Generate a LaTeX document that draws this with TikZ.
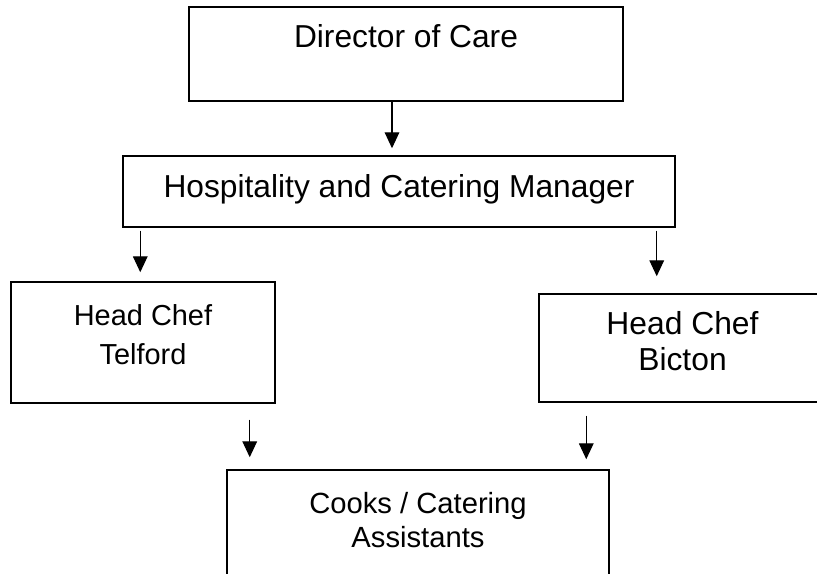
\documentclass[tikz,border=0pt]{standalone}
\usepackage{fontspec}
\setmainfont{Liberation Sans}
\usetikzlibrary{arrows.meta,calc}

\tikzset{
    box/.style={draw, line width=1.1pt, inner sep=0pt, align=center},
    arr/.style={line width=0.9pt, -{Triangle[length=12pt,width=11pt]}},
}

\begin{document}
\begin{tikzpicture}[x=0.75pt, y=-0.75pt]
    \useasboundingbox (0,0) rectangle (817,574);
    \clip (0,0) rectangle (817,574);

    %riquadri
    \node[box, minimum width=325.5pt, text height=30.75pt, text depth=39.75pt,
          font=\fontsize{23.8pt}{27pt}\selectfont] (dir) at (406,54) {Director of Care};
    \node[box, minimum width=414pt, text height=30.75pt, text depth=22.5pt,
          font=\fontsize{23.8pt}{27pt}\selectfont] (hcm) at (399,191.5) {Hospitality and Catering Manager};
    \node[box, minimum width=198pt, text height=61.5pt, text depth=29.25pt,
          font=\fontsize{21.7pt}{29.25pt}\selectfont] (tel) at (143,342.5) {Head Chef\\Telford};
    \node[box, minimum width=215.25pt, text height=57pt, text depth=24pt,
          font=\fontsize{23.85pt}{27pt}\selectfont] (bic) at (682.5,348) {Head Chef\\Bicton};
    \node[box, minimum width=286.5pt, text height=57.75pt, text depth=32.25pt,
          font=\fontsize{21.9pt}{25.5pt}\selectfont] (cook) at (418,530) {Cooks / Catering\\Assistants};

    %frecce
    \draw[arr, shorten >=5.25pt] ($(dir.south)+(-14,0)$) coordinate (a1) -- (a1 |- hcm.north);
    \draw[arr, shorten <=2.25pt, shorten >=6.75pt] ($(hcm.south west)+(18,0)$) coordinate (a2) -- (a2 |- tel.north);
    \draw[arr, shorten <=2.25pt, shorten >=12.75pt] ($(hcm.south east)+(-19,0)$) coordinate (a3) -- (a3 |- bic.north);
    \draw[arr, shorten <=12pt, shorten >=9pt] ($(tel.south east)+(-26,0)$) coordinate (a4) -- (a4 |- cook.north);
    \draw[arr, shorten <=9.75pt, shorten >=7.5pt] ($(bic.south west)+(48,0)$) coordinate (a5) -- (a5 |- cook.north);
\end{tikzpicture}
\end{document}
